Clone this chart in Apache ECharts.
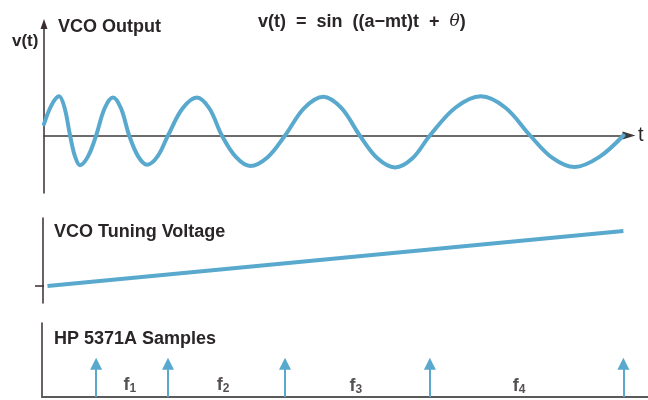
<!DOCTYPE html>
<html>
<head>
<meta charset="utf-8">
<script src="https://cdn.jsdelivr.net/npm/echarts@6/dist/echarts.min.js"></script>
<style>
  html, body { margin: 0; padding: 0; background: #ffffff; }
  #chart { width: 648px; height: 400px; }
</style>
</head>
<body>
<div id="chart"></div>
<script>
// VCO output: time (arbitrary units) and amplitude read along the swept sine
const outputTime = [
  0, 1.3, 2.6, 3.55, 4.5, 5.35, 6.2, 7.6,
  9.0, 10.45, 11.9, 13.3, 14.7, 16.25, 17.8, 19.6,
  21.4, 23.9, 26.4, 28.55, 30.7, 33.15, 35.6, 38.6,
  41.6, 44.9, 48.2, 51.35, 54.5, 57.55, 60.6, 63.6,
  66.6, 71.0, 75.4, 79.65, 83.9, 87.75, 91.6, 95.8, 100
];
const outputValue = [
  0.3, 0.8, 1.03, 0.73, 0, -0.55, -0.78, -0.55,
  0, 0.71, 1.0, 0.71, 0, -0.55, -0.77, -0.55,
  0, 0.71, 1.0, 0.71, 0, -0.57, -0.8, -0.57,
  0, 0.72, 1.02, 0.72, 0, -0.6, -0.84, -0.6,
  0, 0.73, 1.03, 0.73, 0, -0.59, -0.83, -0.57, 0
];

// VCO tuning voltage ramp (relative units)
const rampTime  = [0.6, 100];
const rampValue = [0, 1];

// HP 5371A sample instants (positive-going zero crossings) and marker height
const sampleTime   = [9.0, 21.4, 41.6, 66.6, 100];
const sampleHeight = [0.9, 0.9, 0.9, 0.9, 0.9];

// frequency labels placed between successive samples
const freqIndex = ['1', '2', '3', '4'];
const freqTime  = [14.8, 30.9, 53.8, 82.0];
const freqLevel = [0.32, 0.32, 0.3, 0.3];

const BLUE = '#58a9cd';
const INK = '#2a2527';
const AXIS = '#3a2c32';
const FONT = '"Liberation Sans", Arial, Helvetica, sans-serif';

// shared horizontal scale: t = 0 sits at x = 44 px, 5.794 px per unit
const X0 = 44, PX = 5.794, W = 648;
function xRange(left, right) {
  return { min: (left - X0) / PX, max: (W - right - X0) / PX };
}

const topX = xRange(44, 19);
const midX = xRange(43, 19);
const botX = xRange(42, 0);

const chart = echarts.init(document.getElementById('chart'), null, { renderer: 'canvas' });

const hidden = { show: false };
const heading = (text, left, top, size) => ({
  text, left, top, padding: 0,
  textStyle: { fontFamily: FONT, fontWeight: 'bold', fontSize: size, color: INK }
});

chart.setOption({
  backgroundColor: '#ffffff',
  animation: false,
  title: [
    heading('v(t)', 12, 33, 17),
    heading('VCO Output', 58, 18, 18),
    {
      text: 'v(t)  =  sin  ((a\u2212mt)t  +  {th|\u03b8})', left: 258, top: 13, padding: 0,
      textStyle: {
        fontFamily: FONT, fontWeight: 'bold', fontSize: 18, color: INK,
        rich: { th: { fontFamily: '"DejaVu Serif", serif', fontStyle: 'italic', fontWeight: 'normal', fontSize: 17, color: INK } }
      }
    },
    heading('VCO Tuning Voltage', 54, 223, 18),
    heading('HP 5371A Samples', 54, 330, 18)
  ],
  grid: [
    { left: 44, right: 19, top: 24, bottom: 207 },
    { left: 43, right: 19, top: 218, bottom: 97 },
    { left: 42, right: 0, top: 323, bottom: 3 }
  ],
  xAxis: [
    {
      gridIndex: 0, type: 'value', min: topX.min, max: topX.max,
      axisLine: { show: true, onZero: true, symbol: ['none', 'triangle'], symbolSize: [8, 13], lineStyle: { color: '#3c3c3c', width: 1.5 } },
      axisTick: hidden, axisLabel: hidden, splitLine: hidden,
      name: 't', nameLocation: 'end', nameGap: 9,
      nameTextStyle: { fontFamily: FONT, fontSize: 20, color: INK, verticalAlign: 'middle', padding: [5, 0, 0, 0] }
    },
    { gridIndex: 1, type: 'value', min: midX.min, max: midX.max, show: false },
    {
      gridIndex: 2, type: 'value', min: botX.min, max: botX.max,
      axisLine: { show: true, onZero: false, lineStyle: { color: '#5a5a5a', width: 2 } },
      axisTick: hidden, axisLabel: hidden, splitLine: hidden
    }
  ],
  yAxis: [
    {
      gridIndex: 0, type: 'value', min: -1.513, max: 2.934,
      axisLine: { show: true, onZero: true, symbol: ['none', 'triangle'], symbolSize: [7, 10], lineStyle: { color: AXIS, width: 1.5 } },
      axisTick: hidden, axisLabel: hidden, splitLine: hidden
    },
    {
      gridIndex: 1, type: 'value', min: -0.309, max: 1.236,
      axisLine: { show: true, onZero: false, lineStyle: { color: AXIS, width: 1.5 } },
      axisTick: { show: true, customValues: [0], length: 8, lineStyle: { color: AXIS, width: 1.5 } },
      axisLabel: hidden, splitLine: hidden
    },
    {
      gridIndex: 1, type: 'value', min: -0.309, max: 1.236,
      axisLine: hidden,
      axisTick: { show: true, inside: true, customValues: [0], length: 6, lineStyle: { color: AXIS, width: 1.5 } },
      axisLabel: hidden, splitLine: hidden
    },
    {
      gridIndex: 2, type: 'value', min: 0, max: 2,
      axisLine: { show: true, onZero: false, lineStyle: { color: AXIS, width: 1.5 } },
      axisTick: hidden, axisLabel: hidden, splitLine: hidden
    }
  ],
  series: [
    {
      name: 'VCO Output', type: 'line', xAxisIndex: 0, yAxisIndex: 0,
      data: outputTime.map((t, i) => [t, outputValue[i]]),
      smooth: 0.35, showSymbol: false,
      lineStyle: { color: BLUE, width: 4, cap: 'round', join: 'round' }
    },
    {
      name: 'VCO Tuning Voltage', type: 'line', xAxisIndex: 1, yAxisIndex: 1,
      data: rampTime.map((t, i) => [t, rampValue[i]]),
      showSymbol: false,
      lineStyle: { color: BLUE, width: 4 }
    },
    {
      name: 'HP 5371A Samples', type: 'lines', coordinateSystem: 'cartesian2d', xAxisIndex: 2, yAxisIndex: 3,
      symbol: ['none', 'triangle'], symbolSize: [8, 12],
      lineStyle: { color: BLUE, width: 2, opacity: 1, curveness: 0 },
      data: sampleTime.map((t, i) => ({ coords: [[t, 0], [t, sampleHeight[i]]] }))
    },
    {
      name: 'Frequency', type: 'scatter', xAxisIndex: 2, yAxisIndex: 3,
      symbolSize: 0,
      data: freqTime.map((t, i) => ({ value: [t, freqLevel[i]], idx: freqIndex[i] })),
      label: {
        show: true, position: 'inside',
        formatter: p => '{f|f}{s|' + p.data.idx + '}',
        rich: {
          f: { fontFamily: FONT, fontWeight: 'bold', fontSize: 18, color: INK },
          s: { fontFamily: FONT, fontWeight: 'bold', fontSize: 12, color: INK, verticalAlign: 'bottom', padding: [8, 0, 0, 0] }
        }
      }
    }
  ]
});
</script>
</body>
</html>
